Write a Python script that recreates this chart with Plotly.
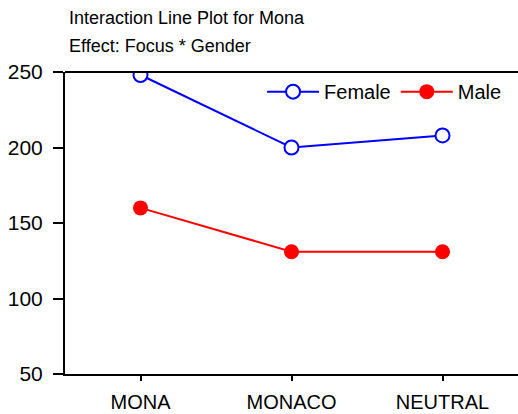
import plotly.graph_objects as go

# Cell means for the Focus x Gender interaction
focus = ["MONA", "MONACO", "NEUTRAL"]
female = [248, 200, 208]
male = [160, 131, 131]

y_ticks = [50, 100, 150, 200, 250]

FONT = "Liberation Sans, Arial, sans-serif"

fig = go.Figure()
fig.add_trace(go.Scatter(
    x=focus, y=female, name="Female", mode="lines+markers",
    line=dict(color="#0000ff", width=2),
    marker=dict(symbol="circle", size=14, color="white",
                line=dict(color="#0000ff", width=2)),
))
fig.add_trace(go.Scatter(
    x=focus, y=male, name="Male", mode="lines+markers",
    line=dict(color="#ff0000", width=2),
    marker=dict(symbol="circle", size=15, color="#ff0000",
                line=dict(color="#ff0000", width=0)),
))

fig.update_layout(
    width=518, height=414,
    margin=dict(l=65, r=0, t=72, b=40),
    paper_bgcolor="white", plot_bgcolor="white",
    font=dict(family=FONT, color="black", size=20),
    showlegend=True,
    legend=dict(
        orientation="h", x=0.435, xanchor="left", y=0.935, yanchor="middle",
        bgcolor="rgba(0,0,0,0)", font=dict(size=20), itemwidth=52,
    ),
    xaxis=dict(
        type="category", range=[-0.5, 2.5],
        showline=True, linecolor="black", linewidth=2,
        ticks="outside", ticklen=5, tickwidth=2, tickcolor="black",
        ticklabelstandoff=4,
        showgrid=False, zeroline=False, tickfont=dict(size=20),
    ),
    yaxis=dict(
        range=[50, 250], tickvals=y_ticks,
        showline=True, linecolor="black", linewidth=2,
        ticks="outside", ticklen=10, tickwidth=2, tickcolor="black",
        ticklabelstandoff=6,
        showgrid=False, zeroline=False, tickfont=dict(size=21),
    ),
    shapes=[dict(type="line", xref="paper", yref="paper",
                 x0=0, x1=1, y0=1, y1=1,
                 line=dict(color="black", width=2))],
    annotations=[
        dict(text="Interaction Line Plot for Mona", xref="paper", yref="paper",
             x=0.004, y=1.179, xanchor="left", yanchor="middle",
             showarrow=False, font=dict(size=18)),
        dict(text="Effect: Focus * Gender", xref="paper", yref="paper",
             x=0.004, y=1.086, xanchor="left", yanchor="middle",
             showarrow=False, font=dict(size=18)),
    ],
)

fig.write_html("out.html")
